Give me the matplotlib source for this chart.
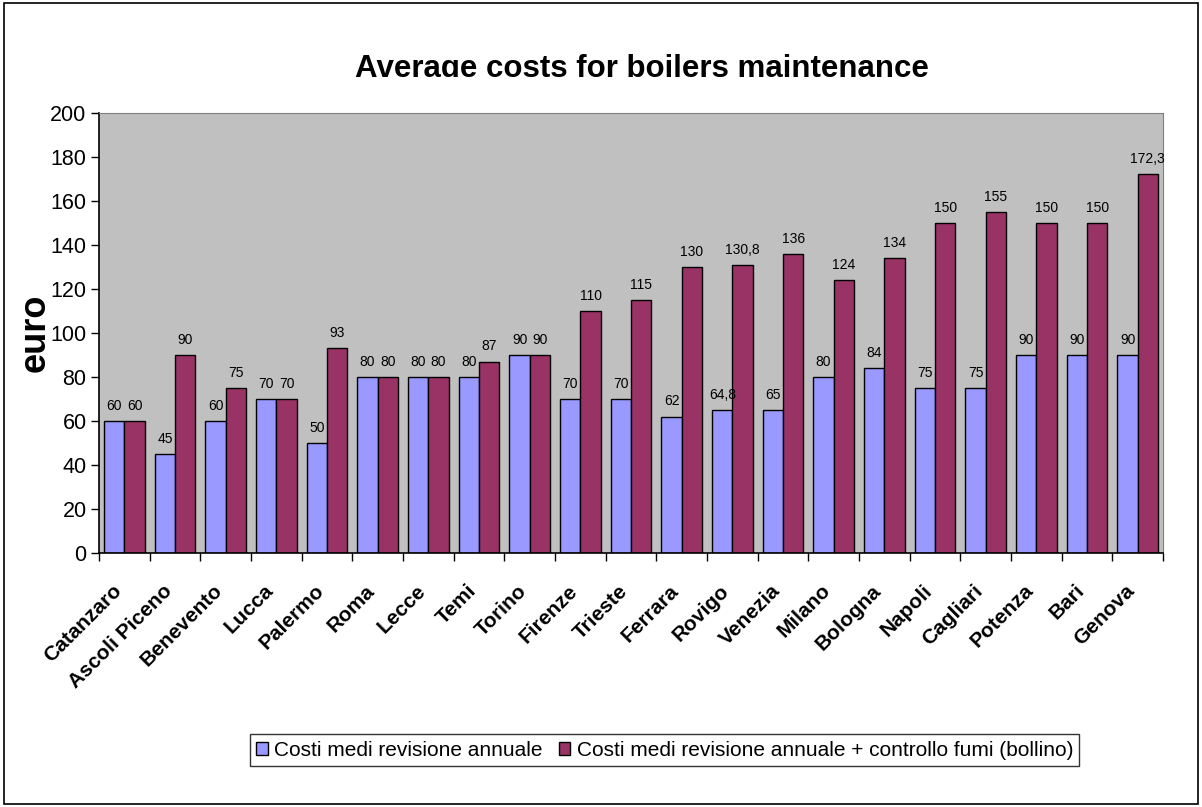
import numpy as np
import matplotlib.pyplot as plt
import matplotlib.transforms as mtransforms
from matplotlib.patches import Rectangle

plt.rcParams['font.family'] = ['Liberation Sans', 'DejaVu Sans']

cities = ["Catanzaro", "Ascoli Piceno", "Benevento", "Lucca", "Palermo", "Roma",
          "Lecce", "Temi", "Torino", "Firenze", "Trieste", "Ferrara", "Rovigo",
          "Venezia", "Milano", "Bologna", "Napoli", "Cagliari", "Potenza", "Bari",
          "Genova"]
revisione = [60, 45, 60, 70, 50, 80, 80, 80, 90, 70, 70, 62, 64.8, 65, 80, 84,
             75, 75, 90, 90, 90]
bollino = [60, 90, 75, 70, 93, 80, 80, 87, 90, 110, 115, 130, 130.8, 136, 124,
           134, 150, 155, 150, 150, 172.3]
labels = ["Costi medi revisione annuale",
          "Costi medi revisione annuale + controllo fumi (bollino)"]

def fmt(v):
    return f"{v:g}".replace(".", ",")

fig = plt.figure(figsize=(12.02, 8.07), dpi=100)
fig.patches.append(Rectangle((0.003, 0.004), 0.994, 0.992, transform=fig.transFigure,
                             fill=False, edgecolor='black', linewidth=1.2))

ax = fig.add_axes([0.0824, 0.3147, 0.8852, 0.5452])
ax.set_facecolor('#C0C0C0')

x = np.arange(len(cities))
w = 0.4
b1 = ax.bar(x - w / 2, revisione, w, color='#9999FF', edgecolor='black',
            linewidth=1, label=labels[0])
b2 = ax.bar(x + w / 2, bollino, w, color='#993366', edgecolor='black',
            linewidth=1, label=labels[1])

for bars, vals in ((b1, revisione), (b2, bollino)):
    for r, v in zip(bars, vals):
        ax.annotate(fmt(v), (r.get_x() + r.get_width() / 2, v),
                    xytext=(0, 6), textcoords='offset points',
                    ha='center', va='bottom', fontsize=10)

ax.set_xlim(-0.5, len(cities) - 0.5)
ax.set_ylim(0, 200)
ax.set_yticks(range(0, 201, 20))
ax.tick_params(axis='y', labelsize=15.5, direction='out', length=6, width=1,
               pad=3)

# category separators as tick marks, names at the centres
ax.set_xticks(np.arange(len(cities) + 1) - 0.5)
ax.set_xticklabels([])
ax.set_xticks(x, minor=True)
ax.set_xticklabels(cities, minor=True, rotation=45, ha='right', va='center',
                   rotation_mode='anchor', fontsize=15, fontweight='bold')
ax.tick_params(axis='x', which='major', direction='out', length=6, width=1)
ax.tick_params(axis='x', which='minor', length=0, pad=25)
shift = mtransforms.ScaledTranslation(-6 / 100, 0, fig.dpi_scale_trans)
for lbl in ax.get_xticklabels(minor=True):
    lbl.set_transform(lbl.get_transform() + shift)

for s in ('top', 'right'):
    ax.spines[s].set_color('#808080')
for s in ('left', 'bottom'):
    ax.spines[s].set_color('black')
    ax.spines[s].set_linewidth(1.2)

ax.set_ylabel("euro", fontsize=26, fontweight='bold', labelpad=-2)

title = fig.text(0.534, 0.905, "Average costs for boilers maintenance",
                 ha='center', va='baseline', fontsize=22.5, fontweight='bold')
title.set_clip_path(Rectangle((0, 1 - 77 / 807), 1, 50 / 807,
                              transform=fig.transFigure))

fig.legend(loc='center', bbox_to_anchor=(0.553, 0.0705), ncol=2, fontsize=15,
           frameon=True, fancybox=False, edgecolor='black', handlelength=0.55,
           handleheight=0.55, handletextpad=0.3, columnspacing=0.8,
           borderpad=0.3)

fig.savefig("out.png", dpi=100)
